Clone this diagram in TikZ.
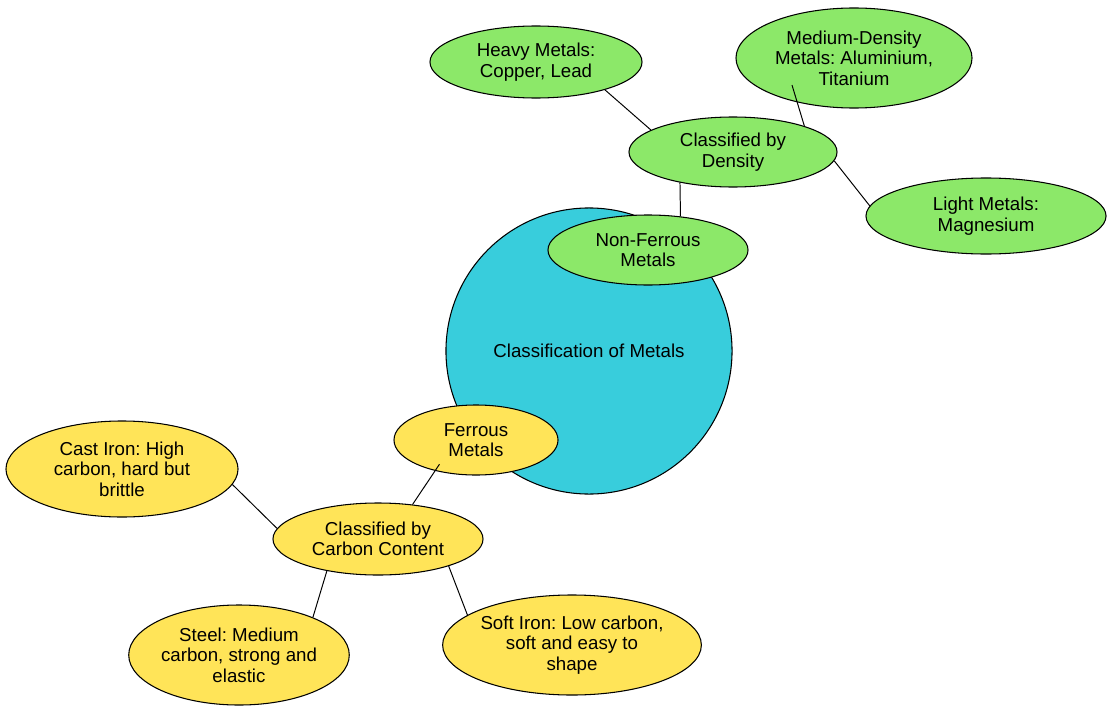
\documentclass[tikz,border=0pt]{standalone}
\usepackage{fontspec}
\setmainfont{Liberation Sans}
\usetikzlibrary{shapes.geometric}
\frenchspacing

\definecolor{metalcyan}{RGB}{56,205,220}
\definecolor{densgreen}{RGB}{140,232,105}
\definecolor{carbyellow}{RGB}{255,228,88}

\begin{document}
\begin{tikzpicture}[x=0.025cm, y=-0.025cm,
    topic/.style={ellipse, draw=black, line width=0.75pt, inner sep=0pt,
        align=center, font=\fontsize{13.3}{14.6}\selectfont},
    greenbox/.style={topic, fill=densgreen},
    yellowbox/.style={topic, fill=carbyellow},
    link/.style={draw=black, line width=0.7pt}]
    \useasboundingbox (0,0) rectangle (1116,716);

    % Central circle
    \node[topic, circle, fill=metalcyan, minimum size=7.15cm] (metals) at (589,351) {Classification of Metals};

    % Non-ferrous branch
    \node[greenbox, minimum width=5.0cm, minimum height=1.75cm] (nonferrous) at (648,250) {Non-Ferrous\\ Metals};
    \node[greenbox, minimum width=5.2cm, minimum height=1.75cm] (density) at (733,152) {Classified by\\ Density};
    \node[greenbox, minimum width=5.3cm, minimum height=1.8cm] (heavy) at (536,62) {Heavy Metals:\\ Copper, Lead};
    \node[greenbox, minimum width=5.9cm, minimum height=2.5cm] (medium) at (854,58) {Medium-Density\\ Metals: Aluminium,\\ Titanium};
    \node[greenbox, minimum width=6.0cm, minimum height=1.9cm] (light) at (986,216) {Light Metals:\\ Magnesium};

    % Ferrous branch
    \node[yellowbox, minimum width=4.1cm, minimum height=1.75cm] (ferrous) at (476,440) {Ferrous\\ Metals};
    \node[yellowbox, minimum width=5.25cm, minimum height=1.8cm] (carbon) at (378,539) {Classified by\\ Carbon Content};
    \node[yellowbox, minimum width=5.8cm, minimum height=2.4cm] (castiron) at (122,469) {Cast Iron: High\\ carbon, hard but\\ brittle};
    \node[yellowbox, minimum width=5.5cm, minimum height=2.5cm] (steel) at (239,655) {Steel: Medium\\ carbon, strong and\\ elastic};
    \node[yellowbox, minimum width=6.3cm, minimum height=2.5cm] (softiron) at (572,645) {Soft Iron: Low carbon,\\ soft and easy to\\ shape};

    % Connectors
    \draw[link] (heavy.-22) -- (density.165);
    \draw[link, shorten <=-0.45cm] (medium.-142) -- (density.20);
    \draw[link] (density.-5) -- (light.175);
    \draw[link] (density.-150) -- (nonferrous.46);
    \draw[link, shorten <=-0.2cm] (ferrous.-143) -- (carbon.45);
    \draw[link] (castiron.-8) -- (carbon.174);
    \draw[link] (carbon.-148) -- (steel.27);
    \draw[link] (carbon.-21) -- (softiron.164);

\end{tikzpicture}
\end{document}
